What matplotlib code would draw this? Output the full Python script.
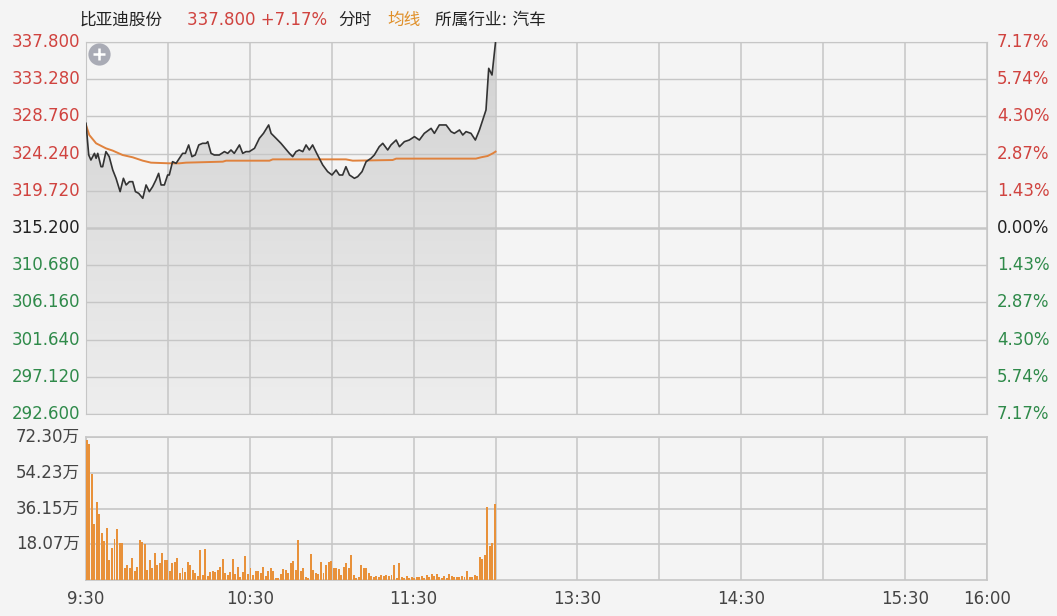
import numpy as np
import matplotlib.pyplot as plt
from matplotlib.colors import LinearSegmentedColormap

plt.rcParams['font.family'] = ['DejaVu Sans', 'Noto Sans CJK SC']

# --- data ---
PREV_CLOSE = 315.2
price_ticks = [337.800, 333.280, 328.760, 324.240, 319.720, 315.200,
               310.680, 306.160, 301.640, 297.120, 292.600]
pct_labels = ['7.17%', '5.74%', '4.30%', '2.87%', '1.43%', '0.00%',
              '1.43%', '2.87%', '4.30%', '5.74%', '7.17%']
vol_ticks = [18.07, 36.15, 54.23, 72.30]
time_ticks = [0, 60, 120, 180, 240, 300, 330]
time_labels = ['9:30', '10:30', '11:30', '13:30', '14:30', '15:30', '16:00']

# minutes since 9:30 (lunch break removed) and price
price_minutes = [0, 1.0, 1.8, 3.1, 3.7, 4.3, 5.5, 6.1, 7.3, 8.5, 9.8, 11.0, 12.5,
                 13.7, 14.7, 15.9, 17.1, 18.1, 19.3, 20.8, 22.0, 23.2, 24.4, 25.6,
                 26.6, 27.5, 28.7, 29.9, 30.5, 31.7, 33.0, 34.2, 35.4, 36.4, 37.6,
                 38.8, 40.0, 41.3, 42.7, 44.0, 44.6, 45.8, 47.0, 48.8, 50.7, 51.9,
                 53.1, 54.3, 56.2, 57.4, 58.6, 59.8, 61.7, 63.5, 65.0, 66.9, 67.8,
                 69.6, 71.4, 74.5, 75.7, 76.9, 78.1, 79.4, 80.6, 81.8, 83.0, 84.5,
                 86.7, 88.5, 90.1, 91.6, 92.8, 94.0, 95.2, 96.5, 98.3, 99.5, 101.1,
                 102.6, 104.4, 105.6, 107.4, 108.7, 110.5, 111.7, 113.6, 114.8,
                 116.6, 118.4, 120.3, 122.1, 123.9, 126.4, 127.6, 129.4, 131.9,
                 133.7, 134.9, 136.8, 138.0, 139.2, 141.0, 142.6, 144.1, 145.3,
                 146.5, 147.5, 148.7, 150.0]
price_values = [327.92, 324.07, 323.46, 324.27, 323.67, 324.27, 322.65, 322.65,
                324.48, 323.87, 322.25, 321.24, 319.62, 321.24, 320.43, 320.83,
                320.83, 319.62, 319.41, 318.81, 320.43, 319.62, 320.22, 321.03,
                321.84, 320.43, 320.43, 321.64, 321.64, 323.26, 323.06, 323.67,
                324.27, 324.27, 325.29, 323.87, 324.07, 325.29, 325.49, 325.49,
                325.69, 324.27, 324.07, 324.07, 324.48, 324.27, 324.68, 324.27,
                325.29, 324.27, 324.48, 324.48, 324.88, 326.10, 326.70, 327.72,
                326.70, 326.10, 325.49, 324.27, 323.87, 324.48, 324.68, 324.48,
                325.29, 324.68, 325.29, 324.27, 322.86, 322.05, 321.64, 322.25,
                321.64, 321.64, 322.65, 321.64, 321.24, 321.44, 322.05, 323.26,
                323.67, 324.07, 325.08, 325.49, 324.68, 325.29, 325.89, 325.08,
                325.69, 325.89, 326.30, 325.89, 326.70, 327.31, 326.70, 327.72,
                327.72, 326.91, 326.70, 327.11, 326.50, 326.91, 326.70, 325.89,
                327.11, 328.32, 329.54, 334.60, 333.79, 337.80]

avg_minutes = [0, 1.2, 3.7, 7.3, 9.8, 13.4, 17.1, 20.8, 23.8, 30.5, 34.2, 36.6,
               50.1, 51.3, 67.2, 68.4, 95.2, 97.7, 112.3, 113.6, 142.8, 144.7,
               147.1, 149.0, 150.0]
avg_values = [327.72, 326.50, 325.49, 324.88, 324.60, 324.07, 323.79, 323.38,
              323.14, 323.06, 323.06, 323.14, 323.26, 323.38, 323.38, 323.54,
              323.54, 323.38, 323.46, 323.63, 323.63, 323.79, 323.95, 324.27,
              324.48]

# volume in 万 shares, left to right
volume = [70.8, 69.0, 53.7, 28.1, 39.6, 33.2, 23.9, 19.6, 26.4, 10.2, 16.2, 20.5,
          25.6, 18.8, 18.8, 6.0, 7.7, 6.0, 11.1, 4.3, 6.8, 20.1, 19.1, 18.4, 5.1,
          10.2, 6.0, 13.6, 7.7, 8.5, 13.6, 9.9, 10.2, 4.8, 8.5, 8.9, 11.1, 3.4, 6.0,
          3.8, 8.9, 7.7, 5.1, 3.4, 2.0, 15.3, 2.6, 15.7, 2.0, 3.8, 4.3, 3.8, 5.1,
          6.8, 10.6, 3.4, 2.6, 3.8, 10.6, 3.1, 6.5, 1.7, 3.8, 11.9, 3.1, 6.0, 2.6,
          4.8, 4.3, 3.4, 6.5, 2.0, 4.3, 6.0, 4.3, 0.9, 0.9, 3.1, 5.5, 5.1, 3.4, 8.5,
          9.4, 5.1,
          20.1, 4.3, 6.0, 1.7, 0.9, 13.3, 5.1, 3.4, 3.1, 8.9, 3.4, 7.7, 8.9, 9.4,
          6.0, 6.0, 5.5, 2.6, 6.5, 8.5, 6.0, 12.8, 2.6, 0.9, 1.7, 7.7, 6.0, 6.0,
          3.4, 2.0, 1.7, 2.0, 1.7, 2.6, 2.0, 2.6, 2.0, 2.6, 7.7, 0.9, 8.5,
          1.7, 0.9, 2.0, 0.9, 1.7, 0.9, 1.7, 1.4, 2.0, 0.9, 2.6, 1.7, 3.1, 2.0,
          3.1, 1.7, 0.9, 2.0, 0.9, 3.1, 2.0, 1.7, 1.4, 1.7, 2.0, 1.4, 4.3, 1.7,
          1.4, 2.6, 2.0, 11.6, 10.6, 12.8, 36.7, 17.0, 18.8, 38.6]

# --- style ---
BG = '#f4f4f4'
GRID = '#c6c6c6'
RED = '#d0433f'
GREEN = '#2f8a4a'
DARK = '#444444'
ORANGE = '#e0823d'
W, H = 1057, 616


def fx(px):
    return px / W


def fy(py):
    return 1 - py / H


fig = plt.figure(figsize=(W / 100, H / 100), dpi=100, facecolor=BG)

# --- price panel ---
ax1 = fig.add_axes([fx(86), fy(414), fx(987) - fx(86), fy(42) - fy(414)])
ax1.set_facecolor(BG)

poly = ax1.fill_between(price_minutes, price_values, price_ticks[-1],
                        color='none', lw=0)
cmap = LinearSegmentedColormap.from_list('fade', ['#eeeeee', '#d2d2d2'])
grad = np.linspace(0, 1, 256).reshape(-1, 1)
img = ax1.imshow(grad, extent=[0, 150, price_ticks[-1], price_ticks[0]],
                 origin='lower', cmap=cmap, aspect='auto', zorder=1)
img.set_clip_path(poly.get_paths()[0], transform=ax1.transData)

for t in price_ticks:
    lw = 1.8 if t == PREV_CLOSE else 1.0
    ax1.axhline(t, color=GRID, lw=lw, zorder=2)
for m in np.arange(0, 331, 30):
    ax1.axvline(m, color=GRID, lw=1.1, zorder=2)

ax1.plot(avg_minutes, avg_values, color=ORANGE, lw=1.4, zorder=3)
ax1.plot(price_minutes, price_values, color='#333333', lw=1.2, zorder=4)

ax1.set_xlim(0, 330)
ax1.set_ylim(price_ticks[-1], price_ticks[0])
ax1.set_xticks([])
ax1.set_yticks([])
for s in ax1.spines.values():
    s.set_color(GRID)

tr = ax1.get_yaxis_transform()
for t, pl in zip(price_ticks, pct_labels):
    c = RED if t > PREV_CLOSE else (GREEN if t < PREV_CLOSE else '#222222')
    ax1.text(-6 / 901, t, f'{t:.3f}', transform=tr, ha='right', va='center',
             fontsize=12, color=c)
    ax1.text(1 + 10 / 901, t, pl, transform=tr, ha='left', va='center',
             fontsize=12, color=c)

# zoom button
ax1.plot(13 / 901, 1 - 12 / 372, 'o', transform=ax1.transAxes, ms=16,
         color='#a9abb5', mec='none', zorder=6, clip_on=False)
ax1.plot(13 / 901, 1 - 12 / 372, '+', transform=ax1.transAxes, ms=9,
         mew=1.8, color='white', zorder=7, clip_on=False)

# --- volume panel ---
ax2 = fig.add_axes([fx(86), fy(580), fx(987) - fx(86), fy(437) - fy(580)])
ax2.set_facecolor(BG)
for v in vol_ticks:
    ax2.axhline(v, color=GRID, lw=1.2, zorder=1)
for m in np.arange(0, 331, 30):
    ax2.axvline(m, color=GRID, lw=1.1, zorder=1)

vol_x = np.linspace(0.3, 149.7, len(volume))
ax2.bar(vol_x, volume, width=0.72, color='#e8913a', zorder=3)

ax2.set_xlim(0, 330)
ax2.set_ylim(0, vol_ticks[-1])
ax2.set_yticks([])
ax2.set_xticks(time_ticks)
ax2.set_xticklabels(time_labels, fontsize=12, color=DARK)
ax2.tick_params(axis='x', length=0, pad=7)
for s in ax2.spines.values():
    s.set_color(GRID)
    s.set_linewidth(1.2)

tr2 = ax2.get_yaxis_transform()
for v in vol_ticks:
    ax2.text(-6 / 901, v, f'{v:.2f}万', transform=tr2, ha='right', va='center',
             fontsize=12, color=DARK)

# --- header ---
hy = fy(20)
fig.text(fx(80), hy, '比亚迪股份', fontsize=12, color='#222222', va='center')
fig.text(fx(187), hy, '337.800 +7.17%', fontsize=12, color=RED, va='center')
fig.text(fx(338), hy, '分时', fontsize=12, color='#222222', va='center')
fig.text(fx(387), hy, '均线', fontsize=12, color='#e0902a', va='center')
fig.text(fx(435), hy, '所属行业: 汽车', fontsize=12, color='#222222', va='center')

fig.savefig('out.png', dpi=100, facecolor=BG)
